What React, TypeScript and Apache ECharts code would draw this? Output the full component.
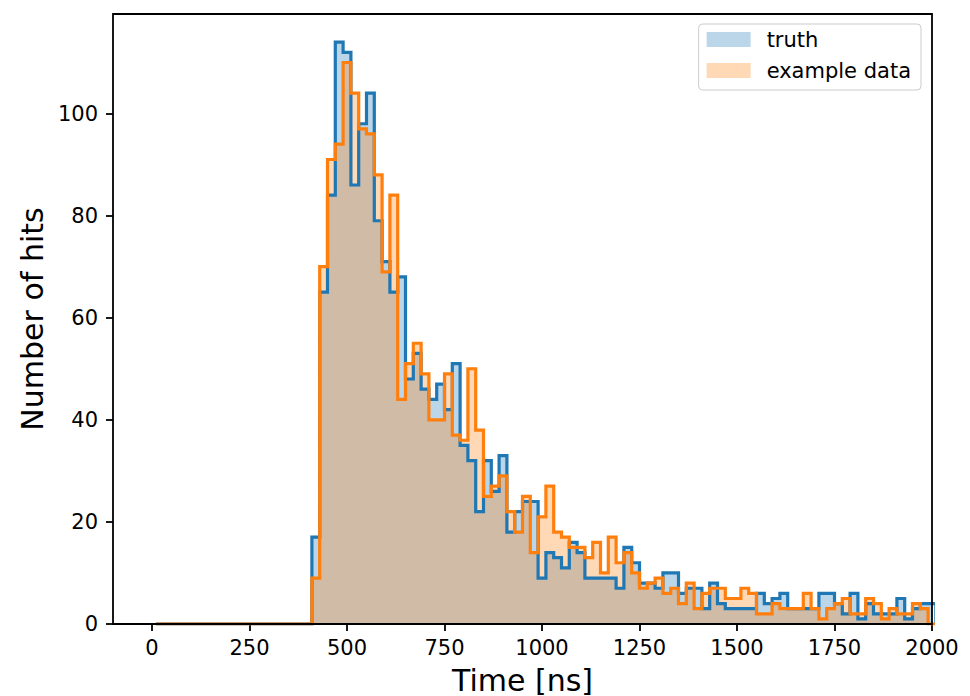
import React, { useEffect, useRef } from "react";
import * as echarts from "echarts";

// Histogram bins: left edge of bin i = BIN_START + i * BIN_WIDTH (ns)
const BIN_START = 10;
const BIN_WIDTH = 20;

const truthCounts = [
  0, 0, 0, 0, 0, 0, 0, 0, 0, 0,
  0, 0, 0, 0, 0, 0, 0, 0, 0, 0,
  17, 65, 84, 114, 112, 86, 98, 104, 79, 71,
  65, 68, 48, 53, 46, 44, 47, 42, 51, 35,
  32, 22, 32, 26, 33, 18, 22, 24, 24, 9,
  14, 13, 11, 16, 14, 9, 9, 9, 9, 7,
  15, 12, 8, 8, 7, 10, 10, 6, 7, 7,
  3, 8, 4, 3, 3, 3, 3, 6, 4, 5,
  6, 3, 3, 3, 3, 6, 6, 4, 2, 6,
  1, 4, 2, 2, 2, 5, 1, 3, 4, 4,
];

const dataCounts = [
  0, 0, 0, 0, 0, 0, 0, 0, 0, 0,
  0, 0, 0, 0, 0, 0, 0, 0, 0, 0,
  9, 70, 91, 94, 110, 104, 97, 96, 88, 69,
  84, 44, 51, 55, 49, 40, 40, 49, 37, 36,
  50, 38, 25, 27, 29, 22, 18, 25, 14, 21,
  27, 18, 17, 15, 15, 13, 16, 10, 17, 12,
  14, 10, 7, 8, 9, 6, 7, 4, 8, 3,
  6, 7, 7, 5, 5, 7, 6, 2, 2, 4,
  3, 3, 3, 6, 3, 1, 3, 4, 5, 2,
  2, 5, 4, 1, 3, 2, 2, 4, 3, 0,
];

const xTicks = [0, 250, 500, 750, 1000, 1250, 1500, 1750, 2000];
const yTicks = [0, 20, 40, 60, 80, 100];

const BLUE = "#1f77b4";
const ORANGE = "#ff7f0e";
const BLUE_FILL = "rgba(31,119,180,0.3)";
const ORANGE_FILL = "rgba(255,127,14,0.3)";
const FONT = "DejaVu Sans";

function stepPoints(counts: number[]): [number, number][] {
  const pts: [number, number][] = [[BIN_START, 0]];
  counts.forEach((c, i) => {
    const left = BIN_START + i * BIN_WIDTH;
    pts.push([left, c], [left + BIN_WIDTH, c]);
  });
  pts.push([BIN_START + counts.length * BIN_WIDTH, 0]);
  return pts;
}

const GRID = { left: 113, top: 14, right: 38, bottom: 72 };

export default function App() {
  const ref = useRef<HTMLDivElement>(null);

  useEffect(() => {
    if (!ref.current) return;
    const chart = echarts.init(ref.current, undefined, { renderer: "svg" });
    const truthPts = stepPoints(truthCounts);
    const dataPts = stepPoints(dataCounts);

    const areaSeries = (name: string, pts: [number, number][], fill: string) => ({
      name,
      type: "line",
      data: pts,
      symbol: "none",
      showSymbol: false,
      silent: true,
      itemStyle: { color: fill },
      lineStyle: { width: 0, color: fill },
      areaStyle: { color: fill, opacity: 1 },
      z: 1,
    });
    const lineSeries = (name: string, pts: [number, number][], color: string) => ({
      name,
      type: "line",
      data: pts,
      symbol: "none",
      showSymbol: false,
      silent: true,
      itemStyle: { color },
      lineStyle: { width: 3.2, color, join: "miter", cap: "butt" },
      z: 3,
    });

    const axisLabelStyle = {
      color: "#000",
      fontSize: 21,
      fontFamily: FONT,
      formatter: (v: number) => String(v),
    };

    chart.setOption({
      animation: false,
      backgroundColor: "#fff",
      grid: {
        left: GRID.left,
        top: GRID.top,
        right: GRID.right,
        bottom: GRID.bottom,
        containLabel: false,
        outerBoundsMode: "none",
      },
      xAxis: {
        type: "value",
        min: -100,
        max: 2000,
        axisLine: { show: false, onZero: false },
        axisTick: {
          show: true,
          length: 7,
          customValues: xTicks,
          lineStyle: { color: "#000", width: 1.8 },
        },
        axisLabel: { ...axisLabelStyle, margin: 13, customValues: xTicks },
        splitLine: { show: false },
        name: "Time [ns]",
        nameLocation: "middle",
        nameGap: 41,
        nameTextStyle: { color: "#000", fontSize: 30, fontFamily: FONT },
      },
      yAxis: {
        type: "value",
        min: 0,
        max: 119.5,
        axisLine: { show: false, onZero: false },
        axisTick: {
          show: true,
          length: 7,
          customValues: yTicks,
          lineStyle: { color: "#000", width: 1.8 },
        },
        axisLabel: { ...axisLabelStyle, margin: 15, customValues: yTicks },
        splitLine: { show: false },
        name: "Number of hits",
        nameLocation: "middle",
        nameGap: 65,
        nameTextStyle: { color: "#000", fontSize: 30, fontFamily: FONT },
      },
      legend: {
        show: true,
        orient: "vertical",
        right: 49,
        top: 24,
        itemWidth: 44,
        itemHeight: 15,
        itemGap: 10,
        padding: [5, 10, 9, 8],
        backgroundColor: "rgba(255,255,255,0.8)",
        borderColor: "#cccccc",
        borderWidth: 1,
        borderRadius: 4,
        selectedMode: false,
        textStyle: {
          color: "#000",
          fontSize: 21,
          fontFamily: FONT,
          lineHeight: 21,
          padding: [0, 0, 0, 11],
        },
        data: [
          { name: "truth", icon: "rect", itemStyle: { color: BLUE_FILL, borderWidth: 0 } },
          { name: "example data", icon: "rect", itemStyle: { color: ORANGE_FILL, borderWidth: 0 } },
        ],
      },
      graphic: [
        {
          type: "rect",
          z: 100,
          silent: true,
          shape: {
            x: GRID.left,
            y: GRID.top,
            width: 970 - GRID.left - GRID.right,
            height: 696 - GRID.top - GRID.bottom,
          },
          style: { fill: "none", stroke: "#000", lineWidth: 1.8 },
        },
      ],
      series: [
        areaSeries("truth", truthPts, BLUE_FILL),
        areaSeries("example data", dataPts, ORANGE_FILL),
        lineSeries("truth outline", truthPts, BLUE),
        lineSeries("example data outline", dataPts, ORANGE),
      ],
    });

    return () => {
      chart.dispose();
    };
  }, []);

  return (
    <div
      ref={ref}
      style={{ position: "fixed", left: 0, top: 0, width: 970, height: 696, background: "#fff" }}
    />
  );
}
